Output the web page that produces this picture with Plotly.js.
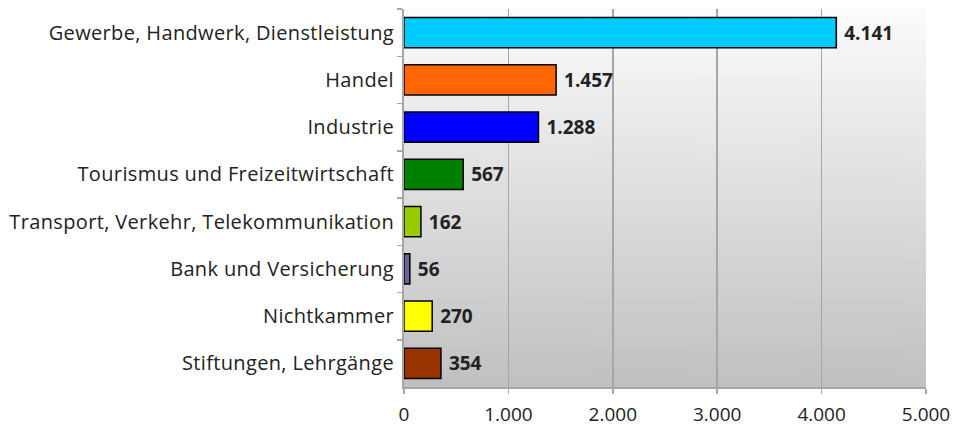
<!DOCTYPE html>
<html><head><meta charset="utf-8">
<script src="https://cdn.plot.ly/plotly-3.0.1.min.js"></script>
<style>html,body{margin:0;padding:0;background:#fff}#chart{width:955px;height:428px}
#chart .ytick text{letter-spacing:0.35px}</style>
</head><body><div id="chart"></div>
<script>
const categories = ["Gewerbe, Handwerk, Dienstleistung","Handel","Industrie","Tourismus und Freizeitwirtschaft","Transport, Verkehr, Telekommunikation","Bank und Versicherung","Nichtkammer","Stiftungen, Lehrgänge"];
const values = [4141,1457,1288,567,162,56,270,354];
const colors = ["#00ccff","#ff6600","#0000ff","#008000","#99cc00","#666699","#ffff00","#993300"];
const xTicks = [0,1000,2000,3000,4000,5000];

const cv = document.createElement('canvas');
cv.width = 10; cv.height = 400;
const ctx = cv.getContext('2d');
const g = ctx.createLinearGradient(0,0,0,400);
g.addColorStop(0,'#fbfbfb'); g.addColorStop(1,'#c0c0c0');
ctx.fillStyle = g; ctx.fillRect(0,0,10,400);
const bg = cv.toDataURL();

Plotly.newPlot('chart',[{
  type:'bar', orientation:'h', x:values, y:categories,
  marker:{color:colors, line:{color:'#000', width:1.5}},
  texttemplate:' %{x:,d}', textposition:'outside', cliponaxis:false,
  textfont:{family:'Open Sans, sans-serif', size:19, color:'#222', weight:'bold'},
  hoverinfo:'none'
}],{
  width:955, height:428, separators:',.',
  margin:{l:404, r:29, t:9, b:41},
  paper_bgcolor:'#fff', plot_bgcolor:'rgba(0,0,0,0)',
  bargap:0.36, showlegend:false,
  font:{family:'Open Sans, sans-serif', size:20, color:'#222'},
  images:[{source:bg, xref:'paper', yref:'paper', x:0, y:1, sizex:1, sizey:1, sizing:'stretch', layer:'below', xanchor:'left', yanchor:'top'}],
  xaxis:{range:[0,5000], tickvals:xTicks, tickformat:',d', showgrid:true, gridcolor:'#a6a6a6', gridwidth:1.5,
    zeroline:false, showline:true, linecolor:'#a6a6a6', linewidth:2, ticks:'outside', ticklen:5, tickcolor:'#a6a6a6', tickwidth:1.5,
    ticklabelstandoff:4, tickfont:{size:19, color:'#222'}, fixedrange:true},
  yaxis:{categoryorder:'array', categoryarray:categories, autorange:'reversed', showline:true, linecolor:'#a6a6a6', linewidth:2,
    ticks:'outside', tickson:'boundaries', ticklen:5, tickcolor:'#a6a6a6', tickwidth:1.5, ticklabelstandoff:4,
    tickfont:{size:20, color:'#222'}, fixedrange:true}
},{staticPlot:true});
</script></body></html>
